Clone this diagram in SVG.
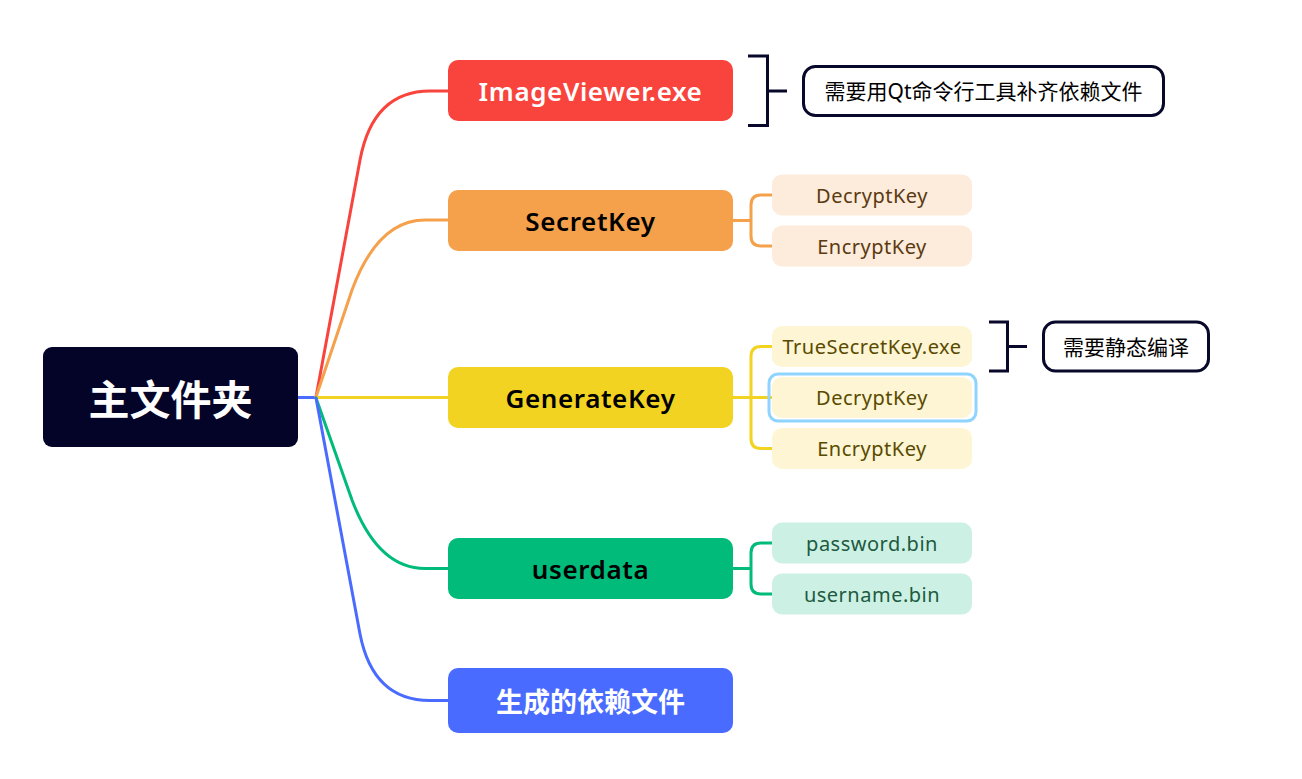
<svg xmlns="http://www.w3.org/2000/svg" width="1302" height="779" viewBox="0 0 1302 779">
<style>
.lbl{font-family:"Noto Sans","Noto Sans CJK SC",sans-serif;text-anchor:middle;dominant-baseline:central}
.main{font-size:26px;font-weight:600;letter-spacing:0.6px}
.sub{font-size:20px;letter-spacing:0.5px}
.note{font-size:21px;fill:#000}
.br{fill:none;stroke:#08082a;stroke-width:3}
.conn path{fill:none;stroke-width:3;stroke-linecap:round}
</style>
<rect width="1302" height="779" fill="#fff"/>
<g id="connectors" class="conn">
<path d="M298 397.5 L316 397.5" stroke="#4A6BFF"/>
<path d="M316 397 L360 160 Q373 91 430 91 L448 91" stroke="#F9443D"/>
<path d="M316 397 L352 290 Q378 220 425 220 L448 220" stroke="#F5A04B"/>
<path d="M316 397.5 L448 397.5" stroke="#F2D321"/>
<path d="M316 398 L352 500 Q378 568.5 425 568.5 L448 568.5" stroke="#00BB7A"/>
<path d="M316 398 L360 634 Q373 700.5 430 700.5 L448 700.5" stroke="#4A6BFF"/>
<path d="M733 220.5 L751 220.5 M772 195 L761 195 Q751 195 751 205 L751 236 Q751 246 761 246 L772 246" stroke="#F5A04B"/>
<path d="M733 397.5 L772 397.5 M772 346.5 L761 346.5 Q751 346.5 751 356.5 L751 438.5 Q751 448.5 761 448.5 L772 448.5" stroke="#F2D321"/>
<path d="M733 568.5 L751 568.5 M772 543 L761 543 Q751 543 751 553 L751 584 Q751 594 761 594 L772 594" stroke="#00BB7A"/>
</g>
<g id="root">
<rect x="43" y="347" width="255" height="100" rx="9" fill="#040428"/>
<text class="lbl" x="170.5" y="399" font-size="41" font-weight="700" fill="#fff">主文件夹</text>
</g>
<g id="n-imageviewer">
<rect x="448" y="60" width="285" height="61" rx="10" fill="#F9443D"/>
<text class="lbl main" x="590.5" y="91" fill="#fff">ImageViewer.exe</text>
</g>
<g id="n-secretkey">
<rect x="448" y="190" width="285" height="61" rx="10" fill="#F5A04B"/>
<text class="lbl main" x="590.5" y="220.5" fill="#000">SecretKey</text>
</g>
<g id="n-generatekey">
<rect x="448" y="367" width="285" height="61" rx="10" fill="#F2D321"/>
<text class="lbl main" x="590.5" y="397.5" fill="#000">GenerateKey</text>
</g>
<g id="n-userdata">
<rect x="448" y="538" width="285" height="61" rx="10" fill="#00BB7A"/>
<text class="lbl main" x="590.5" y="568.5" fill="#000">userdata</text>
</g>
<g id="n-deps">
<rect x="448" y="668" width="285" height="65" rx="10" fill="#4A6BFF"/>
<text class="lbl" x="590.5" y="701" font-size="27" font-weight="700" fill="#fff">生成的依赖文件</text>
</g>
<g id="s-sk-decrypt">
<rect x="772" y="174.5" width="200" height="41" rx="10" fill="#FDEBDB"/>
<text class="lbl sub" x="872" y="195" fill="#5a3a10">DecryptKey</text>
</g>
<g id="s-sk-encrypt">
<rect x="772" y="225.5" width="200" height="41" rx="10" fill="#FDEBDB"/>
<text class="lbl sub" x="872" y="246" fill="#5a3a10">EncryptKey</text>
</g>
<g id="s-gk-true">
<rect x="772" y="326" width="200" height="41" rx="10" fill="#FDF5D3"/>
<text class="lbl sub" x="872" y="346.5" fill="#5a4a00">TrueSecretKey.exe</text>
</g>
<g id="s-gk-decrypt">
<rect x="772" y="377" width="200" height="41" rx="10" fill="#FDF5D3"/>
<rect x="769" y="374" width="207" height="47" rx="9" fill="none" stroke="#8FD4FF" stroke-width="3"/>
<text class="lbl sub" x="872" y="397.5" fill="#5a4a00">DecryptKey</text>
</g>
<g id="s-gk-encrypt">
<rect x="772" y="428" width="200" height="41" rx="10" fill="#FDF5D3"/>
<text class="lbl sub" x="872" y="448.5" fill="#5a4a00">EncryptKey</text>
</g>
<g id="s-ud-password">
<rect x="772" y="522.5" width="200" height="41" rx="10" fill="#CCF1E4"/>
<text class="lbl sub" x="872" y="543" fill="#1d5a40">password.bin</text>
</g>
<g id="s-ud-username">
<rect x="772" y="573.5" width="200" height="41" rx="10" fill="#CCF1E4"/>
<text class="lbl sub" x="872" y="594" fill="#1d5a40">username.bin</text>
</g>
<g id="note-qt">
<path class="br" d="M748 56 L767.5 56 L767.5 125.5 L748 125.5 M767.5 91 L787 91"/>
<rect x="803.5" y="66.5" width="360" height="49" rx="12" fill="#fff" stroke="#08082a" stroke-width="3"/>
<text class="lbl note" x="983.5" y="91">需要用Qt命令行工具补齐依赖文件</text>
</g>
<g id="note-static">
<path class="br" d="M989 322 L1007.5 322 L1007.5 371 L989 371 M1007.5 346.5 L1027 346.5"/>
<rect x="1043.5" y="322" width="165" height="49" rx="12" fill="#fff" stroke="#08082a" stroke-width="3"/>
<text class="lbl note" x="1126" y="346.5">需要静态编译</text>
</g>
</svg>
